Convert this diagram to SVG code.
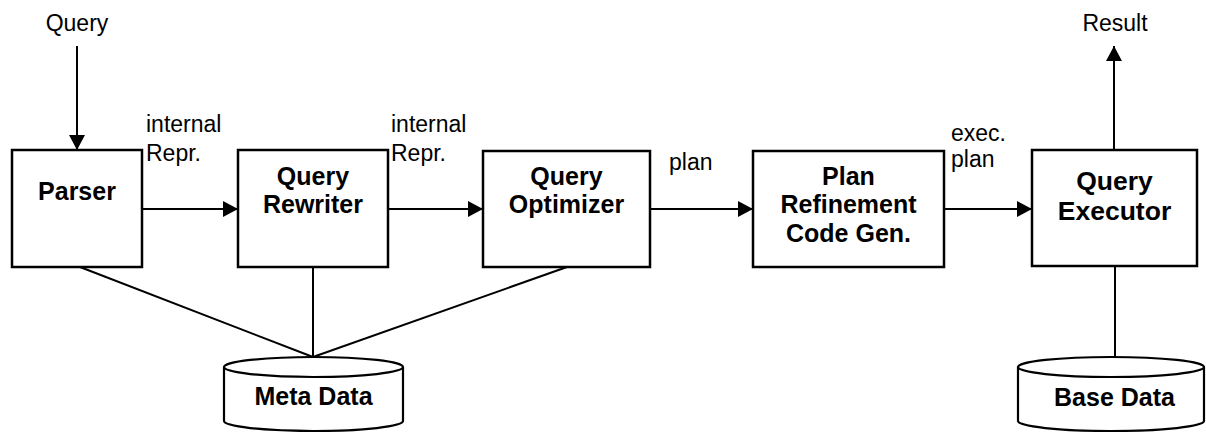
<svg xmlns="http://www.w3.org/2000/svg" width="1206" height="432" viewBox="0 0 1206 432">
  <style>
    .box { fill: #fff; stroke: #000; stroke-width: 2.5; }
    .db { fill: #fff; stroke: #000; stroke-width: 2.2; }
    .edge { fill: none; stroke: #000; stroke-width: 2; }
    .title { font-family: "Liberation Sans", Arial, sans-serif; font-weight: bold; font-size: 25px; text-anchor: middle; fill: #000; }
    .big { font-size: 26.5px; }
    .lbl { font-family: "Liberation Sans", Arial, sans-serif; font-size: 23px; fill: #000; }
  </style>
  <defs>
    <marker id="arrow" viewBox="0 0 15 16" refX="15" refY="8" markerWidth="15" markerHeight="16" markerUnits="userSpaceOnUse" orient="auto">
      <path d="M0,0 L15,8 L0,16 Z" fill="#000"/>
    </marker>
  </defs>
  <rect width="1206" height="432" fill="#fff"/>

  <!-- connectors -->
  <g id="connectors">
    <line class="edge" x1="77" y1="46" x2="77" y2="150" marker-end="url(#arrow)"/>
    <line class="edge" x1="142" y1="209" x2="238" y2="209" marker-end="url(#arrow)"/>
    <line class="edge" x1="388" y1="209" x2="483" y2="209" marker-end="url(#arrow)"/>
    <line class="edge" x1="650" y1="209" x2="753" y2="209" marker-end="url(#arrow)"/>
    <line class="edge" x1="944" y1="209" x2="1032" y2="209" marker-end="url(#arrow)"/>
    <line class="edge" x1="1114" y1="150" x2="1114" y2="46" marker-end="url(#arrow)"/>
    <line class="edge" x1="80" y1="267" x2="313" y2="357"/>
    <line class="edge" x1="313" y1="267" x2="313" y2="357"/>
    <line class="edge" x1="567" y1="267" x2="313" y2="357"/>
    <line class="edge" x1="1115" y1="266" x2="1115" y2="357"/>
  </g>

  <!-- edge labels -->
  <g id="labels">
    <text class="lbl" x="77" y="31" text-anchor="middle">Query</text>
    <text class="lbl" x="1115" y="31" text-anchor="middle">Result</text>
    <text class="lbl" x="146" y="132">internal</text>
    <text class="lbl" x="146" y="161">Repr.</text>
    <text class="lbl" x="391" y="132">internal</text>
    <text class="lbl" x="391" y="161">Repr.</text>
    <text class="lbl" x="669" y="170">plan</text>
    <text class="lbl" x="951" y="141">exec.</text>
    <text class="lbl" x="951" y="167">plan</text>
  </g>

  <g id="parser">
    <rect class="box" x="12" y="150" width="130" height="117"/>
    <text class="title" x="77" y="200">Parser</text>
  </g>

  <g id="rewriter">
    <rect class="box" x="238" y="150" width="150" height="117"/>
    <text class="title" x="313" y="185">Query</text>
    <text class="title" x="313" y="213">Rewriter</text>
  </g>

  <g id="optimizer">
    <rect class="box" x="483" y="151" width="167" height="116"/>
    <text class="title" x="566.5" y="185">Query</text>
    <text class="title" x="566.5" y="213">Optimizer</text>
  </g>

  <g id="refinement">
    <rect class="box" x="753" y="151" width="191" height="116"/>
    <text class="title" x="848.5" y="185">Plan</text>
    <text class="title" x="848.5" y="213">Refinement</text>
    <text class="title" x="848.5" y="242">Code Gen.</text>
  </g>

  <g id="executor">
    <rect class="box" x="1032" y="150" width="165" height="116"/>
    <text class="title big" x="1114.5" y="190">Query</text>
    <text class="title big" x="1114.5" y="220">Executor</text>
  </g>

  <g id="metadata">
    <path class="db" d="M224,367 L224,421 A89.5,10 0 0 0 403,421 L403,367"/>
    <ellipse class="db" cx="313.5" cy="367" rx="89.5" ry="10"/>
    <text class="title" x="313.5" y="405">Meta Data</text>
  </g>

  <g id="basedata">
    <path class="db" d="M1018,367 L1018,421 A93,10 0 0 0 1204,421 L1204,367"/>
    <ellipse class="db" cx="1111" cy="367" rx="93" ry="10"/>
    <text class="title" x="1114.5" y="406">Base Data</text>
  </g>
</svg>
